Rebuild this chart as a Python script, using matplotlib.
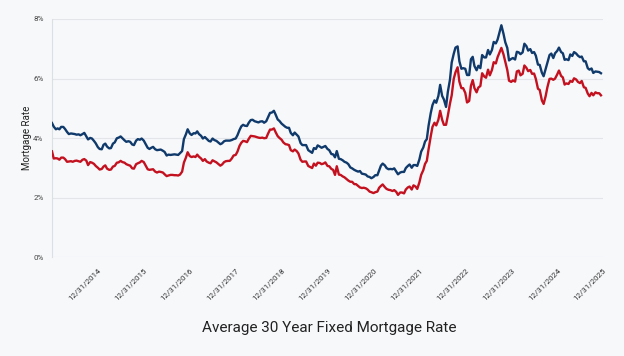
import matplotlib
matplotlib.use('Agg')
import matplotlib.pyplot as plt
import pandas as pd

# semi-monthly readings (1st and 16th), Jan 2014 .. Dec 2025
rate_30yr = [
    4.51, 4.39, 4.30, 4.33, 4.30, 4.38, 4.38, 4.31, 4.21, 4.14, 4.16, 4.15, 4.14, 4.12, 4.13, 4.10, 4.14, 4.18, 4.06, 3.96, 4.01, 3.99, 3.91, 3.83,  # 2014
    3.70, 3.64, 3.63, 3.78, 3.82, 3.72, 3.66, 3.67, 3.82, 3.86, 4.00, 4.02, 4.06, 4.00, 3.93, 3.88, 3.90, 3.88, 3.79, 3.77, 3.92, 3.97, 3.95, 3.99,  # 2015
    3.92, 3.81, 3.68, 3.64, 3.68, 3.71, 3.63, 3.60, 3.61, 3.62, 3.58, 3.54, 3.42, 3.45, 3.44, 3.45, 3.46, 3.45, 3.44, 3.50, 3.57, 3.97, 4.13, 4.30,  # 2016
    4.16, 4.11, 4.17, 4.16, 4.23, 4.14, 4.08, 3.99, 4.04, 3.98, 3.91, 3.89, 3.99, 3.94, 3.91, 3.86, 3.80, 3.83, 3.90, 3.92, 3.92, 3.92, 3.94, 3.97,  # 2017
    3.99, 4.10, 4.28, 4.40, 4.45, 4.42, 4.41, 4.52, 4.61, 4.62, 4.57, 4.55, 4.53, 4.56, 4.57, 4.52, 4.57, 4.70, 4.85, 4.86, 4.92, 4.79, 4.63, 4.58,  # 2018
    4.49, 4.44, 4.38, 4.35, 4.35, 4.18, 4.10, 4.19, 4.12, 4.06, 3.84, 3.77, 3.77, 3.77, 3.60, 3.56, 3.51, 3.67, 3.64, 3.76, 3.72, 3.68, 3.71, 3.74,  # 2019
    3.64, 3.60, 3.47, 3.46, 3.36, 3.57, 3.31, 3.30, 3.26, 3.21, 3.18, 3.13, 3.02, 2.99, 2.94, 2.91, 2.88, 2.90, 2.81, 2.80, 2.78, 2.72, 2.70, 2.66,  # 2020
    2.70, 2.76, 2.76, 2.92, 3.08, 3.15, 3.09, 3.00, 2.96, 2.97, 2.96, 2.99, 2.88, 2.79, 2.85, 2.87, 2.87, 3.00, 3.07, 3.12, 3.01, 3.10, 3.10, 3.07,  # 2021
    3.29, 3.55, 3.69, 3.89, 3.97, 4.42, 4.84, 5.11, 5.27, 5.19, 5.42, 5.79, 5.42, 5.30, 5.05, 5.55, 5.96, 6.54, 6.83, 7.04, 7.08, 6.58, 6.33, 6.35,  # 2022
    6.33, 6.12, 6.12, 6.65, 6.73, 6.42, 6.28, 6.43, 6.35, 6.79, 6.71, 6.71, 6.96, 6.81, 6.96, 7.23, 7.18, 7.31, 7.57, 7.79, 7.50, 7.22, 7.03, 6.61,  # 2023
    6.66, 6.69, 6.64, 6.90, 6.88, 6.82, 6.88, 7.17, 7.09, 6.94, 6.99, 6.86, 6.89, 6.77, 6.47, 6.46, 6.20, 6.08, 6.32, 6.54, 6.79, 6.84, 6.69, 6.85,  # 2024
    6.93, 7.04, 6.89, 6.85, 6.63, 6.65, 6.62, 6.81, 6.76, 6.89, 6.84, 6.77, 6.72, 6.74, 6.58, 6.58, 6.35, 6.30, 6.34, 6.19, 6.24, 6.23, 6.22, 6.18,  # 2025
]
rate_15yr = [
    3.56, 3.32, 3.33, 3.32, 3.28, 3.35, 3.35, 3.30, 3.21, 3.22, 3.23, 3.21, 3.24, 3.25, 3.23, 3.21, 3.28, 3.30, 3.25, 3.10, 3.20, 3.18, 3.14, 3.07,  # 2014
    3.01, 2.95, 2.97, 3.05, 3.09, 2.98, 2.94, 2.95, 3.05, 3.07, 3.18, 3.19, 3.24, 3.20, 3.18, 3.13, 3.10, 3.08, 2.99, 2.98, 3.13, 3.16, 3.19, 3.24,  # 2015
    3.20, 3.09, 2.96, 2.94, 2.95, 2.96, 2.88, 2.85, 2.88, 2.87, 2.85, 2.79, 2.73, 2.75, 2.77, 2.77, 2.76, 2.76, 2.75, 2.78, 2.88, 3.18, 3.35, 3.53,  # 2016
    3.40, 3.37, 3.39, 3.37, 3.45, 3.38, 3.32, 3.24, 3.30, 3.22, 3.18, 3.16, 3.26, 3.23, 3.19, 3.14, 3.08, 3.12, 3.20, 3.23, 3.24, 3.24, 3.32, 3.42,  # 2017
    3.44, 3.55, 3.75, 3.85, 3.91, 3.90, 3.87, 3.98, 4.08, 4.07, 4.06, 4.04, 4.02, 4.01, 4.02, 4.00, 4.01, 4.15, 4.29, 4.29, 4.33, 4.20, 4.07, 4.01,  # 2018
    3.95, 3.86, 3.80, 3.79, 3.77, 3.60, 3.56, 3.62, 3.57, 3.49, 3.28, 3.21, 3.22, 3.22, 3.07, 3.04, 3.00, 3.15, 3.08, 3.18, 3.17, 3.13, 3.15, 3.19,  # 2019
    3.07, 3.06, 2.97, 2.94, 2.77, 3.06, 2.78, 2.77, 2.72, 2.69, 2.63, 2.58, 2.54, 2.54, 2.46, 2.46, 2.40, 2.35, 2.33, 2.34, 2.32, 2.28, 2.21, 2.19,  # 2020
    2.16, 2.19, 2.21, 2.34, 2.40, 2.45, 2.36, 2.30, 2.27, 2.26, 2.23, 2.26, 2.20, 2.10, 2.18, 2.18, 2.15, 2.28, 2.35, 2.38, 2.28, 2.42, 2.38, 2.30,  # 2021
    2.52, 2.77, 2.93, 3.14, 3.24, 3.63, 4.06, 4.38, 4.52, 4.43, 4.62, 4.92, 4.62, 4.45, 4.45, 4.75, 5.16, 5.44, 5.99, 6.21, 6.38, 5.90, 5.68, 5.68,  # 2022
    5.52, 5.20, 5.25, 5.76, 5.95, 5.68, 5.54, 5.70, 5.75, 6.18, 6.07, 6.03, 6.30, 6.11, 6.29, 6.55, 6.51, 6.72, 6.89, 7.03, 6.81, 6.56, 6.29, 5.93,  # 2023
    5.89, 5.94, 5.90, 6.24, 6.27, 6.11, 6.16, 6.44, 6.36, 6.25, 6.29, 6.16, 6.17, 5.99, 5.66, 5.62, 5.27, 5.15, 5.41, 5.71, 5.99, 6.00, 5.96, 6.00,  # 2024
    6.14, 6.27, 6.09, 6.04, 5.80, 5.84, 5.82, 5.92, 5.89, 6.01, 5.97, 5.89, 5.85, 5.92, 5.71, 5.69, 5.50, 5.41, 5.52, 5.44, 5.54, 5.51, 5.51, 5.44,  # 2025
]
tick_years = list(range(2014, 2026))
y_ticks = [0, 2, 4, 6, 8]

dates = pd.date_range('2014-01-01', periods=len(rate_30yr), freq='SMS')

bg = '#f7f8fa'
plt.rcParams['font.family'] = ['Roboto', 'DejaVu Sans']

fig = plt.figure(figsize=(6.24, 3.56), dpi=100, facecolor=bg)
ax = fig.add_axes([0.0833, 0.2767, 0.883, 0.67], facecolor=bg)

ax.plot(dates, rate_30yr, color='#0f3a6b', linewidth=1.7, zorder=3)
ax.plot(dates, rate_15yr, color='#c3111f', linewidth=1.7, zorder=3)

ax.set_ylim(0, 8)
ax.set_xlim(pd.Timestamp('2014-01-01'), pd.Timestamp('2025-12-31'))
ax.set_yticks(y_ticks)
ax.set_yticklabels([f'{v}%' for v in y_ticks])
ax.yaxis.grid(True, color='#e3e5e8', linewidth=0.8)
ax.set_axisbelow(True)

ticks = [pd.Timestamp(f'{y}-12-31') for y in tick_years]
ax.set_xticks(ticks)
ax.set_xticklabels([f'12/31/{y}' for y in tick_years], rotation=45, ha='right',
                   rotation_mode='anchor', fontsize=5.8, color='#333333')
ax.tick_params(axis='both', length=0, pad=7)
ax.tick_params(axis='y', labelsize=5.8, labelcolor='#444444', pad=6)

for s in ['top', 'right', 'bottom']:
    ax.spines[s].set_visible(False)
ax.spines['left'].set_color('#dcdfe3')
ax.spines['left'].set_linewidth(0.8)

ax.set_ylabel('Mortgage Rate', fontsize=7, color='#222222', labelpad=1)
fig.text(0.527, 0.08, 'Average 30 Year Fixed Mortgage Rate', ha='center', va='center',
         fontsize=11, color='#222222')

fig.savefig('out.png', dpi=100, facecolor=bg)
